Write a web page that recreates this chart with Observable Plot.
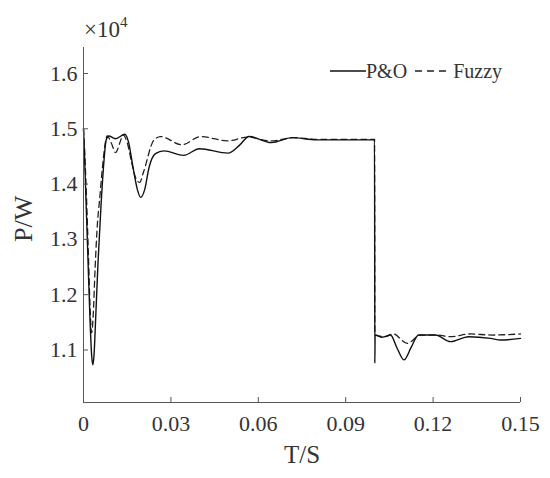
<!DOCTYPE html>
<html><head><meta charset="utf-8">
<script src="https://cdn.jsdelivr.net/npm/d3@7"></script>
<script src="https://cdn.jsdelivr.net/npm/@observablehq/plot@0.6"></script>
<style>
body{margin:0;background:#fff;}
#wrap{position:relative;width:550px;height:478px;font-family:"Liberation Serif",serif;color:#333;}
#exp{position:absolute;left:84px;top:18px;font-size:23px;line-height:1;}
#exp span{font-size:15px;position:relative;top:-10px;}
#legend{position:absolute;left:330px;top:61px;font-size:20px;line-height:1;display:flex;align-items:center;}
#legend svg{display:block;}
</style></head><body>
<div id="wrap"><div id="chart"></div>
<div id="exp">×10<span>4</span></div>
<div id="legend">
<svg width="36" height="10"><line x1="0" x2="36" y1="5" y2="5" stroke="#111" stroke-width="1.4"/></svg><span>P&amp;O</span>
<svg width="40" height="10" style="margin-left:6px"><line x1="2" x2="38" y1="5" y2="5" stroke="#222" stroke-width="1.4" stroke-dasharray="7,5"/></svg><span>Fuzzy</span>
</div>
</div>
<script>
// P&O (solid) series, P in units of 1e4 W
const tPO = [0, 0.0003, 0.0008, 0.0015, 0.0022, 0.0028, 0.0032, 0.0036, 0.0042, 0.005, 0.006, 0.007, 0.0078, 0.0087, 0.011, 0.0142, 0.0155, 0.017, 0.0185, 0.0196, 0.021, 0.0225, 0.0247, 0.0276, 0.0344, 0.0398, 0.0496, 0.0535, 0.0568, 0.0645, 0.0716, 0.08, 0.09, 0.0999, 0.1, 0.1001, 0.1025, 0.1054, 0.1075, 0.110, 0.1125, 0.115, 0.1208, 0.126, 0.1322, 0.1397, 0.1432, 0.15];
const pPO = [1.50, 1.46, 1.38, 1.27, 1.16, 1.09, 1.073, 1.09, 1.16, 1.26, 1.36, 1.44, 1.48, 1.487, 1.482, 1.490, 1.475, 1.43, 1.39, 1.376, 1.39, 1.43, 1.455, 1.460, 1.452, 1.464, 1.456, 1.470, 1.486, 1.475, 1.484, 1.480, 1.480, 1.480, 1.076, 1.127, 1.123, 1.127, 1.105, 1.082, 1.105, 1.127, 1.127, 1.115, 1.124, 1.121, 1.118, 1.121];
// Fuzzy (dashed) series
const tFz = [0, 0.0004, 0.001, 0.0017, 0.0023, 0.0028, 0.0033, 0.004, 0.0048, 0.0055, 0.0065, 0.0075, 0.0081, 0.0095, 0.011, 0.0125, 0.0136, 0.015, 0.0165, 0.018, 0.0193, 0.0205, 0.0241, 0.0264, 0.0338, 0.0402, 0.0494, 0.0563, 0.0642, 0.0721, 0.08, 0.09, 0.0999, 0.1, 0.1034, 0.1063, 0.1111, 0.1157, 0.1214, 0.126, 0.1328, 0.1402, 0.15];
const pFz = [1.50, 1.46, 1.38, 1.27, 1.17, 1.131, 1.16, 1.25, 1.33, 1.37, 1.43, 1.475, 1.487, 1.475, 1.457, 1.475, 1.489, 1.475, 1.44, 1.41, 1.403, 1.42, 1.479, 1.486, 1.471, 1.486, 1.478, 1.485, 1.478, 1.484, 1.481, 1.481, 1.481, 1.127, 1.124, 1.129, 1.112, 1.127, 1.127, 1.124, 1.129, 1.127, 1.129];
const xTicks = [0, 0.03, 0.06, 0.09, 0.12, 0.15];
const yTicks = [1.1, 1.2, 1.3, 1.4, 1.5, 1.6];

const po = tPO.map((t, i) => ({t, p: pPO[i]}));
const fz = tFz.map((t, i) => ({t, p: pFz[i]}));
const yMin = 1.005, yMax = 1.647;

const chart = Plot.plot({
  width: 550, height: 478,
  marginLeft: 83, marginRight: 30, marginTop: 47, marginBottom: 76,
  x: {domain: [0, 0.15]},
  y: {domain: [yMin, yMax]},
  style: {fontFamily: "Liberation Serif, serif", fontSize: "22px", color: "#333", background: "white"},
  marks: [
    Plot.line(fz, {x: "t", y: "p", stroke: "#222", strokeWidth: 1.3, strokeDasharray: "6,4", curve: "monotone-x"}),
    Plot.line(po, {x: "t", y: "p", stroke: "#111", strokeWidth: 1.4, curve: "monotone-x"}),
    Plot.ruleX([0], {stroke: "#555"}),
    Plot.ruleY([yMin], {stroke: "#555"}),
    Plot.axisX(xTicks, {tickSize: -5, tickPadding: 18, tickFormat: d => d === 0 ? "0" : d.toFixed(2), label: null, stroke: "#555"}),
    Plot.axisY(yTicks, {tickSize: -5, tickPadding: 11, tickFormat: d => d.toFixed(1), label: null, stroke: "#555"}),
    Plot.text(["T/S"], {frameAnchor: "bottom", dy: 60, fontSize: 25, fill: "#333"}),
    Plot.text(["P/W"], {frameAnchor: "left", dx: -60, dy: 17, rotate: -90, fontSize: 26, fill: "#333"})
  ]
});
document.getElementById("chart").appendChild(chart);
</script>
</body></html>
